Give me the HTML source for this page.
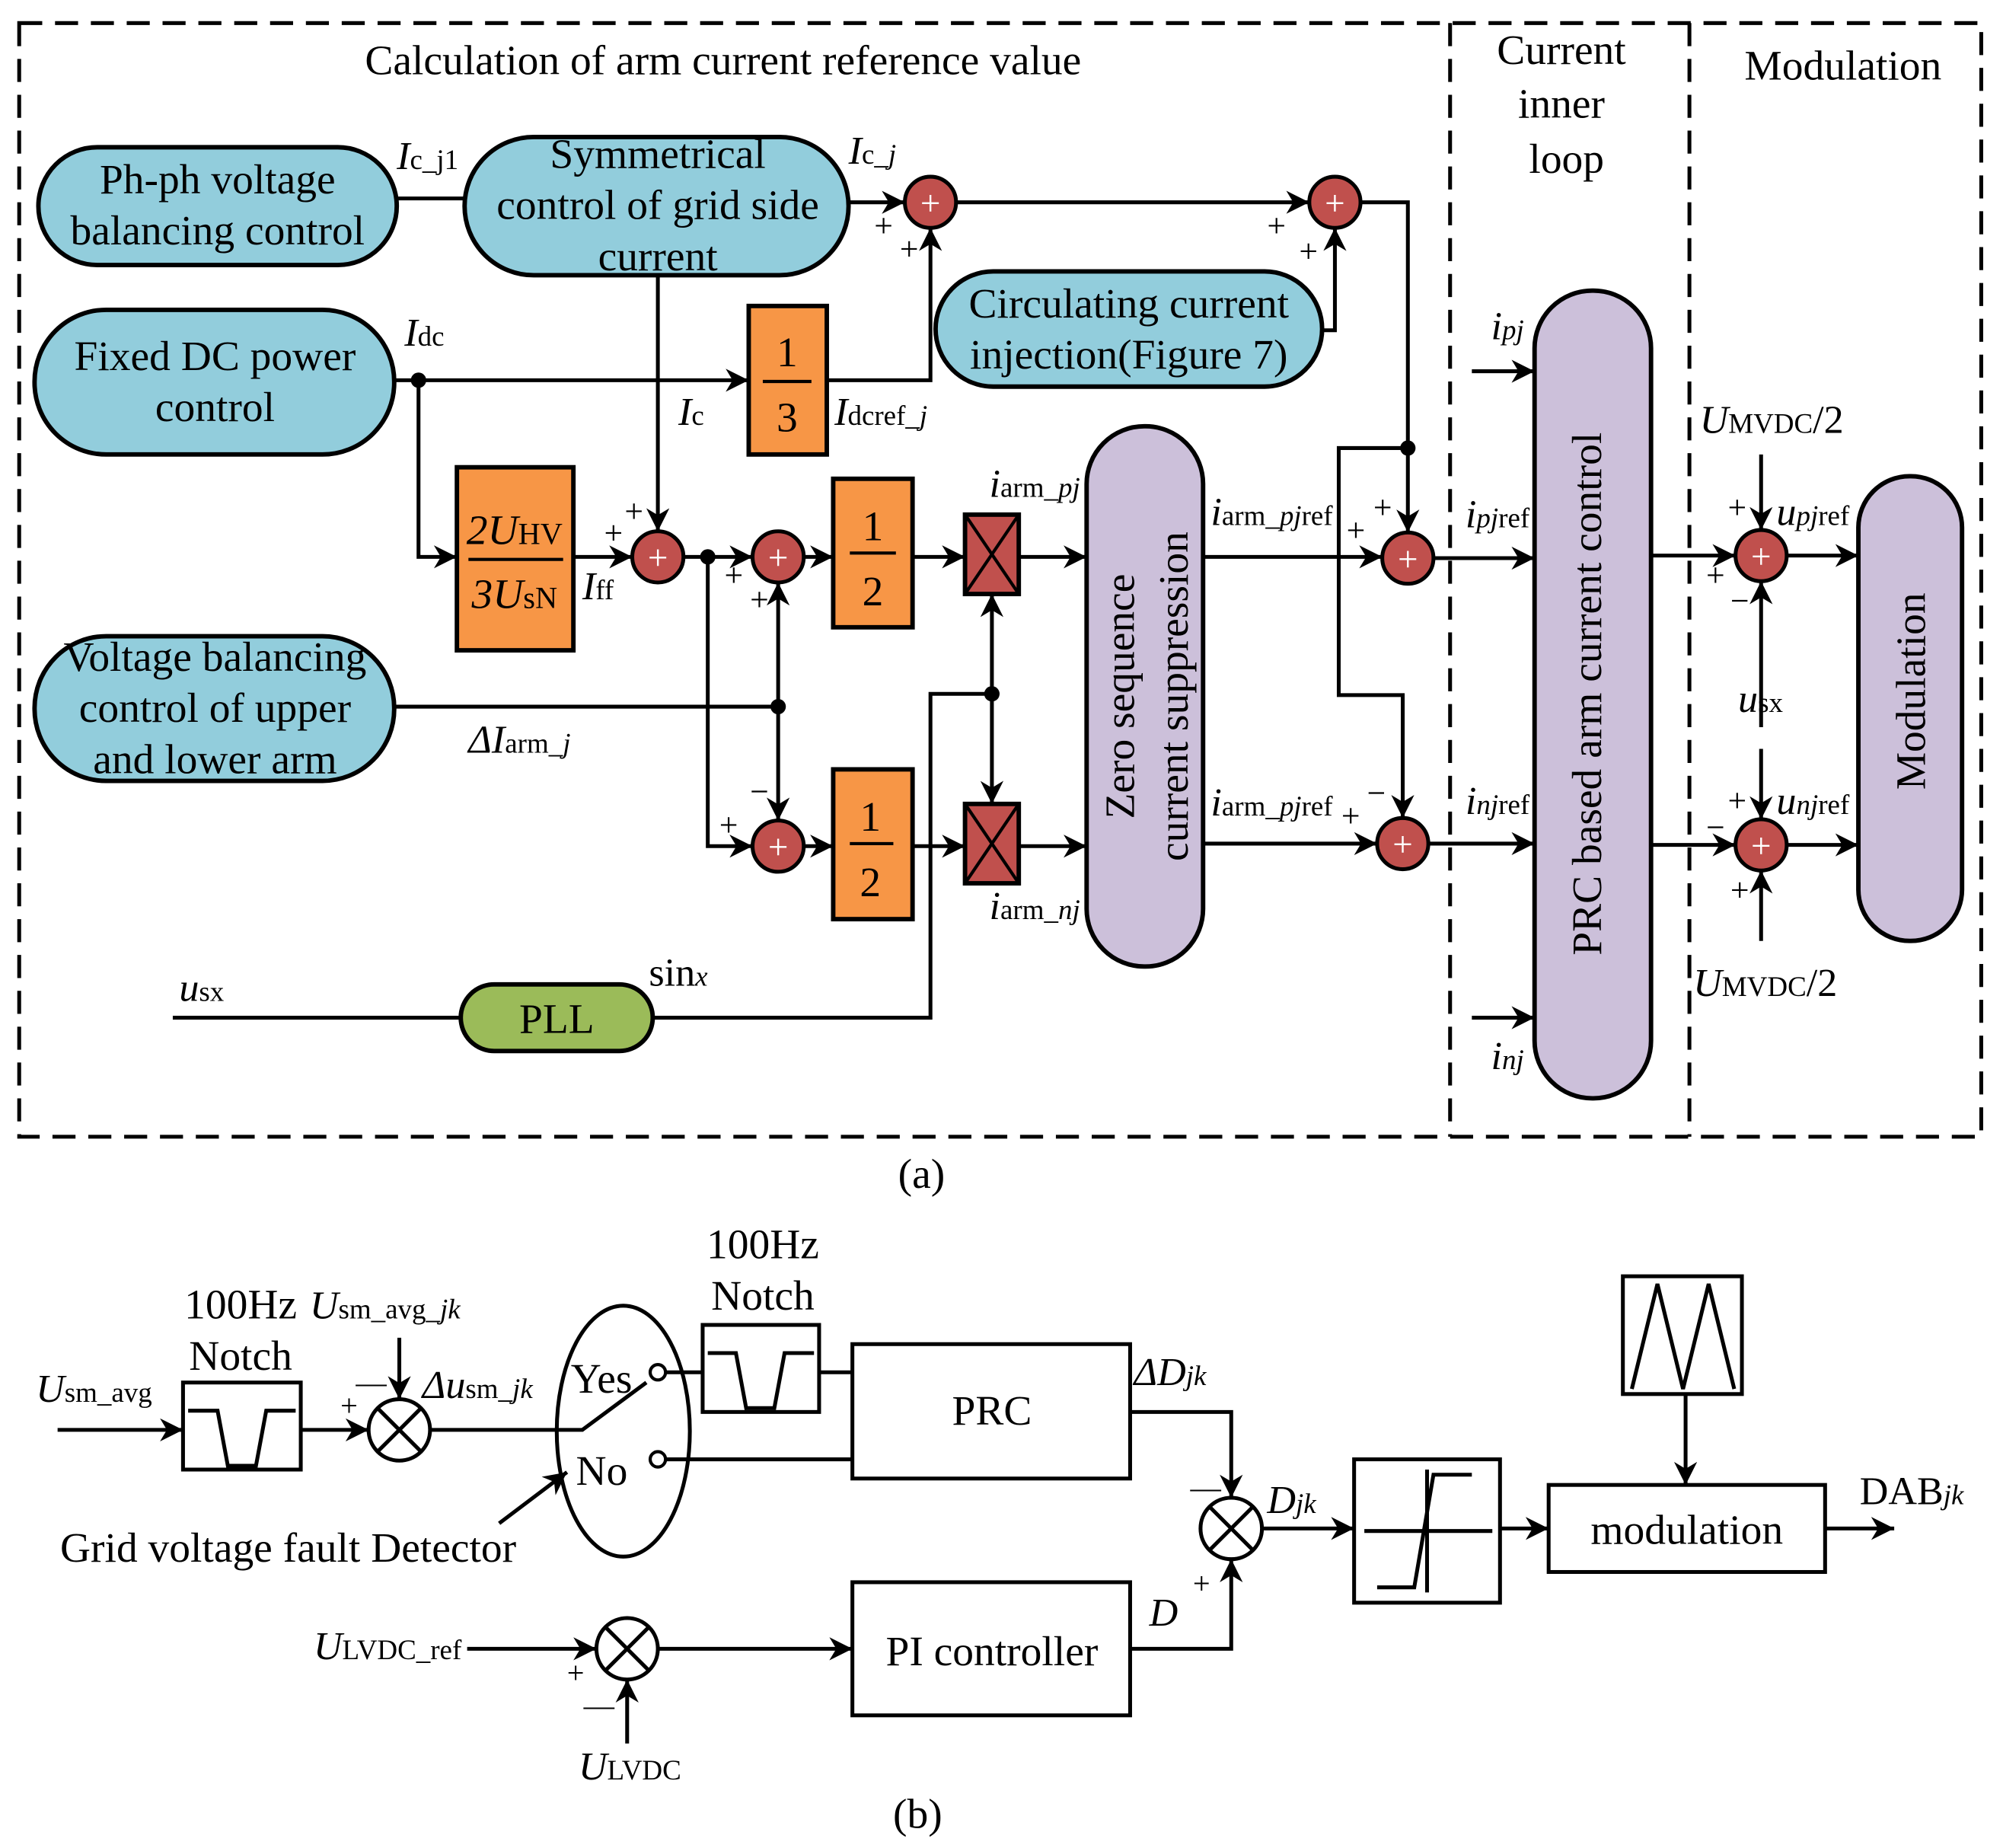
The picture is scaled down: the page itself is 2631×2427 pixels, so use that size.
<!DOCTYPE html>
<html><head><meta charset="utf-8"><style>
html,body{margin:0;padding:0;background:#fff}
svg{display:block}
svg, text, tspan{font-family:"Liberation Serif",serif}
text{fill:#000}
</style></head><body>
<svg width="2631" height="2427" viewBox="0 0 1565 1443.6" xmlns="http://www.w3.org/2000/svg" font-family="Liberation Serif, serif">
<defs>
<marker id="b" viewBox="0 0 10 10" refX="10" refY="5" markerWidth="18" markerHeight="18" markerUnits="userSpaceOnUse" orient="auto"><path d="M0,0 L10,5 L0,10 L3,5 z" fill="#000"/></marker>
</defs>
<g fill="none" stroke="#000" stroke-width="3">
<rect x="15" y="18" width="1533" height="870" stroke-dasharray="18,10"/>
<line x1="1133" y1="18" x2="1133" y2="888" stroke-dasharray="18,10"/>
<line x1="1320" y1="18" x2="1320" y2="888" stroke-dasharray="18,10"/>
</g>
<g font-size="33" text-anchor="middle">
<text x="565" y="58">Calculation of arm current reference value</text>
<text x="1220" y="50">Current</text><text x="1220" y="92">inner</text><text x="1224" y="135">loop</text>
<text x="1440" y="62">Modulation</text>
</g>
<g stroke="#000" stroke-width="3.5" fill="#92cddc">
<rect x="30" y="115" width="280" height="92" rx="46"/>
<rect x="363" y="107" width="300" height="108" rx="54"/>
<rect x="27" y="242" width="281" height="113" rx="56"/>
<rect x="27" y="497" width="281" height="113" rx="56"/>
<rect x="731" y="212" width="302" height="90" rx="45"/>
<rect x="360" y="769" width="150" height="52" rx="26" fill="#9bbb59"/>
<rect x="849" y="333" width="91" height="422" rx="45" fill="#ccc0da"/>
<rect x="1199" y="227" width="91" height="631" rx="45" fill="#ccc0da"/>
<rect x="1452" y="372" width="81" height="363" rx="40" fill="#ccc0da"/>
<rect x="585" y="239" width="61" height="116" fill="#f79646"/>
<rect x="357" y="365" width="91" height="143" fill="#f79646"/>
<rect x="651" y="374" width="62" height="116" fill="#f79646"/>
<rect x="651" y="601" width="62" height="117" fill="#f79646"/>
<rect x="754" y="402" width="42" height="62" fill="#c0504d"/>
<rect x="754" y="628" width="42" height="62" fill="#c0504d"/>
</g>
<g stroke="#000" stroke-width="2.5">
<line x1="754" y1="402" x2="796" y2="464"/><line x1="796" y1="402" x2="754" y2="464"/>
<line x1="754" y1="628" x2="796" y2="690"/><line x1="796" y1="628" x2="754" y2="690"/>
<line x1="596" y1="298" x2="634" y2="298"/><line x1="366" y1="437" x2="440" y2="437"/>
<line x1="664" y1="432" x2="700" y2="432"/><line x1="664" y1="659" x2="698" y2="659"/>
</g>
<g font-size="33" text-anchor="middle">
<text x="170" y="151">Ph-ph voltage</text><text x="170" y="191">balancing control</text>
<text x="514" y="131">Symmetrical</text><text x="514" y="171">control of grid side</text><text x="514" y="211">current</text>
<text x="168" y="289">Fixed DC power</text><text x="168" y="329">control</text>
<text x="168" y="524">Voltage balancing</text><text x="168" y="564">control of upper</text><text x="168" y="604">and lower arm</text>
<text x="882" y="248">Circulating current</text><text x="882" y="288">injection(Figure 7)</text>
<text x="435" y="807">PLL</text>
<text x="615" y="286">1</text><text x="615" y="337">3</text>
<text x="682" y="422">1</text><text x="682" y="473">2</text>
<text x="680" y="649">1</text><text x="680" y="700">2</text>
<text x="402" y="425"><tspan font-style="italic">2U</tspan><tspan font-size="24">HV</tspan></text>
<text x="402" y="475"><tspan font-style="italic">3U</tspan><tspan font-size="24">sN</tspan></text>
<text transform="translate(886,544) rotate(-90)">Zero sequence</text>
<text transform="translate(928,544) rotate(-90)">current suppression</text>
<text transform="translate(1251,542) rotate(-90)">PRC based arm current control</text>
<text transform="translate(1504,540) rotate(-90)">Modulation</text>
</g>
<g fill="none" stroke="#000" stroke-width="3" marker-end="url(#b)">
<line x1="663" y1="158" x2="707" y2="158"/>
<line x1="747" y1="158" x2="1023" y2="158"/>
<polyline points="1063,158 1100,158 1100,416"/>
<polyline points="646,297 727,297 727,178"/>
<polyline points="1033,258 1043,258 1043,178"/>
<line x1="308" y1="297" x2="585" y2="297"/>
<polyline points="327,297 327,435 357,435"/>
<line x1="448" y1="435" x2="494" y2="435"/>
<line x1="514" y1="215" x2="514" y2="415"/>
<line x1="534" y1="435" x2="588" y2="435"/>
<polyline points="553,435 553,661 588,661"/>
<line x1="628" y1="435" x2="651" y2="435"/>
<line x1="628" y1="661" x2="651" y2="661"/>
<line x1="713" y1="435" x2="754" y2="435"/>
<line x1="713" y1="661" x2="754" y2="661"/>
<line x1="796" y1="435" x2="849" y2="435"/>
<line x1="796" y1="661" x2="849" y2="661"/>
<line x1="608" y1="552" x2="608" y2="455"/>
<line x1="608" y1="552" x2="608" y2="641"/>
<line x1="775" y1="542" x2="775" y2="464"/>
<line x1="775" y1="542" x2="775" y2="628"/>
<line x1="940" y1="435" x2="1080" y2="435"/>
<line x1="940" y1="659" x2="1076" y2="659"/>
<polyline points="1100,350 1046,350 1046,543 1096,543 1096,639"/>
<line x1="1120" y1="436" x2="1199" y2="436"/>
<line x1="1116" y1="659" x2="1199" y2="659"/>
<line x1="1150" y1="290" x2="1199" y2="290"/>
<line x1="1150" y1="795" x2="1199" y2="795"/>
<line x1="1290" y1="434" x2="1356" y2="434"/>
<line x1="1290" y1="660" x2="1356" y2="660"/>
<line x1="1376" y1="355" x2="1376" y2="414"/>
<line x1="1376" y1="568" x2="1376" y2="454"/>
<line x1="1376" y1="585" x2="1376" y2="640"/>
<line x1="1376" y1="735" x2="1376" y2="680"/>
<line x1="1396" y1="434" x2="1452" y2="434"/>
<line x1="1396" y1="660" x2="1452" y2="660"/>
</g>
<g fill="none" stroke="#000" stroke-width="3">
<line x1="310" y1="155" x2="363" y2="155"/>
<line x1="308" y1="552" x2="608" y2="552"/>
<line x1="135" y1="795" x2="360" y2="795"/>
<polyline points="510,795 727,795 727,542 775,542"/>
</g>
<g fill="#000">
<circle cx="327" cy="297" r="6"/><circle cx="553" cy="435" r="6"/><circle cx="608" cy="552" r="6"/>
<circle cx="775" cy="542" r="6"/><circle cx="1100" cy="350" r="6"/>
</g>
<g stroke="#000" stroke-width="3" fill="#c0504d">
<circle cx="727" cy="158" r="20"/><circle cx="1043" cy="158" r="20"/><circle cx="514" cy="435" r="20"/>
<circle cx="608" cy="435" r="20"/><circle cx="608" cy="661" r="20"/><circle cx="1100" cy="436" r="20"/>
<circle cx="1096" cy="659" r="20"/><circle cx="1376" cy="434" r="20"/><circle cx="1376" cy="660" r="20"/>
</g>
<g font-size="28" text-anchor="middle">
<text x="727" y="168" style="fill:#fff">+</text><text x="1043" y="168" style="fill:#fff">+</text><text x="514" y="445" style="fill:#fff">+</text>
<text x="608" y="445" style="fill:#fff">+</text><text x="608" y="671" style="fill:#fff">+</text><text x="1100" y="446" style="fill:#fff">+</text>
<text x="1096" y="669" style="fill:#fff">+</text><text x="1376" y="444" style="fill:#fff">+</text><text x="1376" y="670" style="fill:#fff">+</text>
</g>
<g font-size="26">
<text x="683" y="185">+</text><text x="703" y="203">+</text>
<text x="990" y="185">+</text><text x="1015" y="205">+</text>
<text x="472" y="425">+</text><text x="488" y="408">+</text>
<text x="566" y="458">+</text><text x="586" y="477">+</text>
<text x="586" y="627">−</text><text x="562" y="653">+</text>
<text x="1073" y="405">+</text><text x="1052" y="423">+</text>
<text x="1068" y="628">−</text><text x="1048" y="646">+</text>
<text x="1350" y="405">+</text><text x="1333" y="458">+</text><text x="1352" y="478">−</text>
<text x="1350" y="634">+</text><text x="1333" y="655">−</text><text x="1352" y="704">+</text>
</g>
<g font-size="31">
<text x="310" y="132"><tspan font-style="italic">I</tspan><tspan font-size="22">c_j1</tspan></text>
<text x="663" y="128"><tspan font-style="italic">I</tspan><tspan font-size="22">c_<tspan font-style="italic">j</tspan></tspan></text>
<text x="316" y="270"><tspan font-style="italic">I</tspan><tspan font-size="22">dc</tspan></text>
<text x="530" y="332"><tspan font-style="italic">I</tspan><tspan font-size="22">c</tspan></text>
<text x="652" y="332"><tspan font-style="italic">I</tspan><tspan font-size="22">dcref_<tspan font-style="italic">j</tspan></tspan></text>
<text x="455" y="468"><tspan font-style="italic">I</tspan><tspan font-size="22">ff</tspan></text>
<text x="366" y="588"><tspan font-style="italic">ΔI</tspan><tspan font-size="22">arm_<tspan font-style="italic">j</tspan></tspan></text>
<text x="773" y="388"><tspan font-style="italic">i</tspan><tspan font-size="22">arm_<tspan font-style="italic">pj</tspan></tspan></text>
<text x="773" y="718"><tspan font-style="italic">i</tspan><tspan font-size="22">arm_<tspan font-style="italic">nj</tspan></tspan></text>
<text x="946" y="410"><tspan font-style="italic">i</tspan><tspan font-size="22">arm_<tspan font-style="italic">pj</tspan>ref</tspan></text>
<text x="946" y="637"><tspan font-style="italic">i</tspan><tspan font-size="22">arm_<tspan font-style="italic">pj</tspan>ref</tspan></text>
<text x="1145" y="412"><tspan font-style="italic">i</tspan><tspan font-size="22"><tspan font-style="italic">pj</tspan>ref</tspan></text>
<text x="1145" y="636"><tspan font-style="italic">i</tspan><tspan font-size="22"><tspan font-style="italic">nj</tspan>ref</tspan></text>
<text x="1165" y="265"><tspan font-style="italic">i</tspan><tspan font-size="22" font-style="italic">pj</tspan></text>
<text x="1165" y="835"><tspan font-style="italic">i</tspan><tspan font-size="22" font-style="italic">nj</tspan></text>
<text x="140" y="782"><tspan font-style="italic">u</tspan><tspan font-size="22">sx</tspan></text>
<text x="507" y="770">sin<tspan font-size="22" font-style="italic">x</tspan></text>
<text x="1328" y="338"><tspan font-style="italic">U</tspan><tspan font-size="22">MVDC</tspan>/2</text>
<text x="1323" y="778"><tspan font-style="italic">U</tspan><tspan font-size="22">MVDC</tspan>/2</text>
<text x="1388" y="410"><tspan font-style="italic">u</tspan><tspan font-size="22"><tspan font-style="italic">pj</tspan>ref</tspan></text>
<text x="1388" y="636"><tspan font-style="italic">u</tspan><tspan font-size="22"><tspan font-style="italic">nj</tspan>ref</tspan></text>
<text x="1358" y="556"><tspan font-style="italic">u</tspan><tspan font-size="22">sx</tspan></text>
</g>
<g font-size="33" text-anchor="middle">
<text x="720" y="928">(a)</text><text x="717" y="1428">(b)</text>
</g>
<g fill="none" stroke="#000" stroke-width="3">
<rect x="143" y="1080" width="92" height="68"/>
<polyline points="147,1102 170,1102 178,1145 200,1145 208,1102 231,1102"/>
<rect x="549" y="1035" width="91" height="68"/>
<polyline points="553,1057 575,1057 583,1100 605,1100 613,1057 636,1057"/>
<rect x="666" y="1050" width="217" height="105"/>
<rect x="666" y="1236" width="217" height="104"/>
<rect x="1058" y="1140" width="114" height="112"/>
<line x1="1066" y1="1196" x2="1166" y2="1196"/><line x1="1115" y1="1148" x2="1115" y2="1244"/>
<polyline points="1076,1240 1105,1240 1120,1152 1150,1152"/>
<rect x="1210" y="1160" width="216" height="68"/>
<rect x="1268" y="997" width="93" height="92"/>
<polyline points="1275,1085 1295,1003 1315,1085 1335,1003 1355,1085"/>
<ellipse cx="487" cy="1118" rx="52" ry="98"/>
<circle cx="312" cy="1117" r="24"/><line x1="295" y1="1100" x2="329" y2="1134"/><line x1="329" y1="1100" x2="295" y2="1134"/>
<circle cx="962" cy="1194" r="24"/><line x1="945" y1="1177" x2="979" y2="1211"/><line x1="979" y1="1177" x2="945" y2="1211"/>
<circle cx="490" cy="1288" r="24"/><line x1="473" y1="1271" x2="507" y2="1305"/><line x1="507" y1="1271" x2="473" y2="1305"/>
<circle cx="514" cy="1072" r="6" stroke-width="2.5"/><circle cx="514" cy="1140" r="6" stroke-width="2.5"/>
<polyline points="336,1117 455,1117 505,1080"/>
<line x1="520" y1="1072" x2="549" y2="1072"/>
<line x1="640" y1="1072" x2="666" y2="1072"/>
<line x1="520" y1="1140" x2="666" y2="1140"/>
</g>
<g fill="none" stroke="#000" stroke-width="3" marker-end="url(#b)">
<line x1="45" y1="1117" x2="143" y2="1117"/>
<line x1="235" y1="1117" x2="288" y2="1117"/>
<line x1="312" y1="1045" x2="312" y2="1093"/>
<line x1="390" y1="1190" x2="443" y2="1150"/>
<polyline points="883,1103 962,1103 962,1170"/>
<polyline points="883,1288 962,1288 962,1218"/>
<line x1="986" y1="1194" x2="1058" y2="1194"/>
<line x1="1172" y1="1194" x2="1210" y2="1194"/>
<line x1="1426" y1="1194" x2="1480" y2="1194"/>
<line x1="1317" y1="1089" x2="1317" y2="1160"/>
<line x1="365" y1="1288" x2="466" y2="1288"/>
<line x1="490" y1="1362" x2="490" y2="1312"/>
<line x1="514" y1="1288" x2="666" y2="1288"/>
</g>
<g font-size="33">
<text x="188" y="1030" text-anchor="middle">100Hz</text><text x="188" y="1070" text-anchor="middle">Notch</text>
<text x="596" y="983" text-anchor="middle">100Hz</text><text x="596" y="1023" text-anchor="middle">Notch</text>
<text x="775" y="1113" text-anchor="middle">PRC</text>
<text x="775" y="1301" text-anchor="middle">PI controller</text>
<text x="1318" y="1206" text-anchor="middle">modulation</text>
<text x="446" y="1088">Yes</text><text x="450" y="1160">No</text>
<text x="47" y="1220">Grid voltage fault Detector</text>
</g>
<g font-size="31">
<text x="28" y="1095"><tspan font-style="italic">U</tspan><tspan font-size="22">sm_avg</tspan></text>
<text x="242" y="1030"><tspan font-style="italic">U</tspan><tspan font-size="22">sm_avg_<tspan font-style="italic">jk</tspan></tspan></text>
<text x="330" y="1092"><tspan font-style="italic">Δu</tspan><tspan font-size="22">sm_<tspan font-style="italic">jk</tspan></tspan></text>
<text x="886" y="1082"><tspan font-style="italic">ΔD</tspan><tspan font-size="22" font-style="italic">jk</tspan></text>
<text x="990" y="1182"><tspan font-style="italic">D</tspan><tspan font-size="22" font-style="italic">jk</tspan></text>
<text x="898" y="1270" font-style="italic">D</text>
<text x="1453" y="1175">DAB<tspan font-size="22" font-style="italic">jk</tspan></text>
<text x="245" y="1296"><tspan font-style="italic">U</tspan><tspan font-size="22">LVDC_ref</tspan></text>
<text x="452" y="1390"><tspan font-style="italic">U</tspan><tspan font-size="22">LVDC</tspan></text>
</g>
<g font-size="24">
<text x="278" y="1088">—</text><text x="266" y="1106">+</text>
<text x="930" y="1170">—</text><text x="932" y="1245">+</text>
<text x="443" y="1315">+</text><text x="456" y="1340">—</text>
</g>
</svg>
</body></html>
